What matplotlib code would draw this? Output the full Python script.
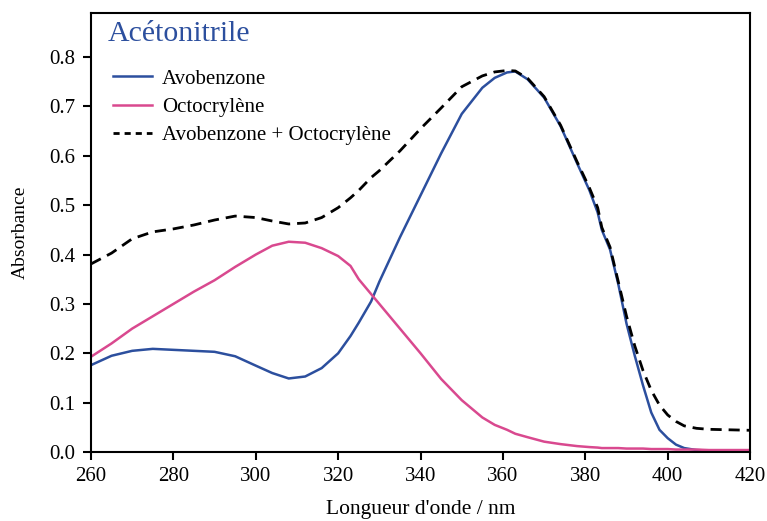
import matplotlib.pyplot as plt

# Longueurs d'onde (nm) et absorbances
wl = [260, 265, 270, 275, 280, 285, 290, 295, 300, 304, 308, 312, 316, 320,
      323, 325, 328, 330, 335, 340, 345, 350, 355, 358, 361, 363, 366, 370,
      374, 378, 381, 383, 384, 386, 388, 390, 392, 394, 396, 398, 400, 402,
      404, 407, 410, 415, 420]

avobenzone = [0.176, 0.195, 0.205, 0.209, 0.207, 0.205, 0.203, 0.194, 0.175,
              0.160, 0.149, 0.153, 0.170, 0.200, 0.235, 0.262, 0.305, 0.345,
              0.435, 0.520, 0.605, 0.685, 0.738, 0.758, 0.769, 0.771, 0.755,
              0.718, 0.660, 0.585, 0.530, 0.485, 0.450, 0.410, 0.340, 0.260,
              0.195, 0.135, 0.080, 0.045, 0.028, 0.015, 0.008, 0.004, 0.003,
              0.003, 0.003]

octocrylene = [0.193, 0.220, 0.250, 0.275, 0.300, 0.325, 0.348, 0.375, 0.400,
               0.418, 0.426, 0.424, 0.413, 0.397, 0.377, 0.350, 0.320, 0.300,
               0.250, 0.200, 0.148, 0.105, 0.070, 0.055, 0.045, 0.037, 0.030,
               0.021, 0.016, 0.012, 0.010, 0.009, 0.008, 0.008, 0.008, 0.007,
               0.007, 0.007, 0.006, 0.006, 0.006, 0.005, 0.005, 0.005, 0.004,
               0.004, 0.004]

melange = [0.381, 0.403, 0.432, 0.446, 0.452, 0.460, 0.470, 0.478, 0.475,
           0.468, 0.462, 0.464, 0.475, 0.495, 0.515, 0.530, 0.556, 0.570,
           0.610, 0.655, 0.697, 0.740, 0.762, 0.770, 0.773, 0.772, 0.757,
           0.720, 0.662, 0.588, 0.535, 0.495, 0.455, 0.415, 0.345, 0.275,
           0.215, 0.165, 0.125, 0.095, 0.075, 0.062, 0.053, 0.048, 0.046,
           0.045, 0.044]

xticks = [260, 280, 300, 320, 340, 360, 380, 400, 420]
yticks = [0.0, 0.1, 0.2, 0.3, 0.4, 0.5, 0.6, 0.7, 0.8]

plt.rcParams['font.family'] = ['Liberation Serif', 'DejaVu Serif']

fig = plt.figure(figsize=(7.67, 5.21), dpi=100)
ax = fig.add_axes([0.1186, 0.1324, 0.8594, 0.8432])

blue = '#2c4f9e'
pink = '#d9498f'

ax.plot(wl, avobenzone, color=blue, lw=1.8, label='Avobenzone')
ax.plot(wl, octocrylene, color=pink, lw=1.8, label='Octocrylène')
ax.plot(wl, melange, color='black', lw=2.0, ls=(0, (4, 2.5)),
        label='Avobenzone + Octocrylène')

ax.set_xlim(260, 420)
ax.set_ylim(0, 0.89)
ax.set_xticks(xticks)
ax.set_yticks(yticks)
ax.set_yticklabels(['%.1f' % v for v in yticks])

for s in ax.spines.values():
    s.set_linewidth(1.5)
ax.tick_params(axis='both', direction='out', length=6, width=1.5,
               labelsize=15, pad=5)

ax.set_xlabel("Longueur d'onde / nm", fontsize=15.5, labelpad=10)
ax.set_ylabel('Absorbance', fontsize=14, labelpad=15)

ax.text(0.026, 0.98, 'Acétonitrile', transform=ax.transAxes,
        color=blue, fontsize=21.5, va='top', ha='left')

leg = ax.legend(loc='upper left', bbox_to_anchor=(0.033, 0.872), frameon=False,
                fontsize=15, handlelength=1.9, handletextpad=0.45,
                labelspacing=0.42, borderaxespad=0, borderpad=0)
leg.get_lines()[2].set_linestyle((0, (2.2, 1.8)))

plt.savefig('out.png', dpi=100)
